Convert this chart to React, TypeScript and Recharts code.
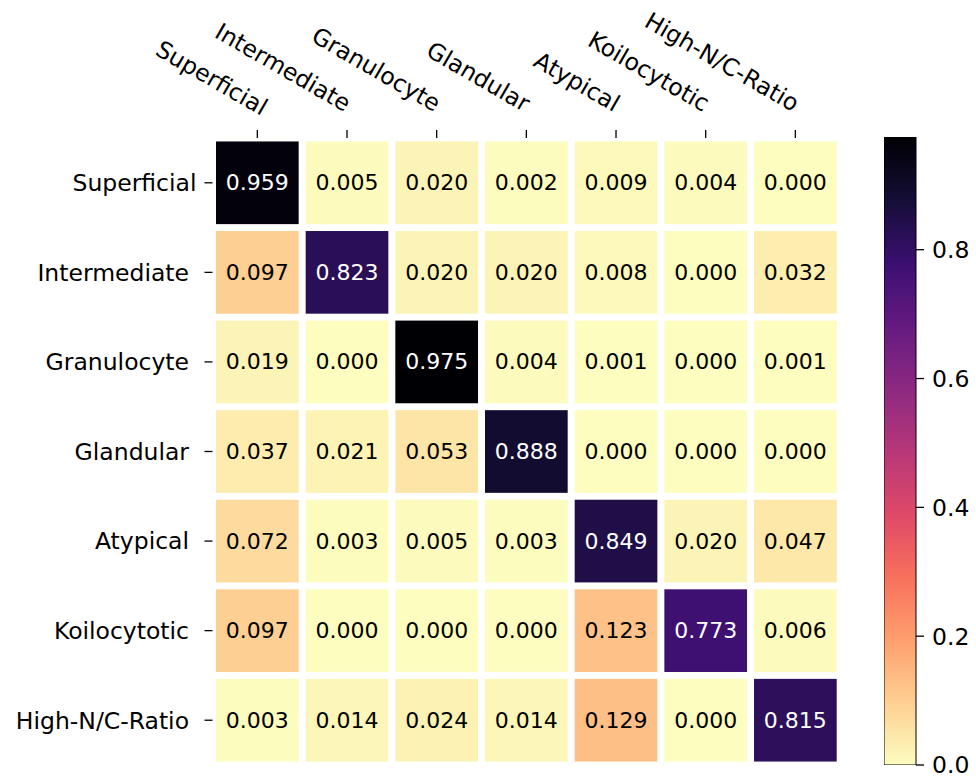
import React from "react";
import { ScatterChart, Scatter, XAxis, YAxis, BarChart, Bar } from "recharts";

// class names (rows = true, cols = predicted); the source labels carry a trailing space
const labels = [
  "Superficial",
  "Intermediate\u00a0",
  "Granulocyte\u00a0",
  "Glandular\u00a0",
  "Atypical\u00a0",
  "Koilocytotic\u00a0",
  "High-N/C-Ratio\u00a0",
];

// normalised confusion matrix, one row per true class
const matrix = [
  [0.959, 0.005, 0.02, 0.002, 0.009, 0.004, 0.0],
  [0.097, 0.823, 0.02, 0.02, 0.008, 0.0, 0.032],
  [0.019, 0.0, 0.975, 0.004, 0.001, 0.0, 0.001],
  [0.037, 0.021, 0.053, 0.888, 0.0, 0.0, 0.0],
  [0.072, 0.003, 0.005, 0.003, 0.849, 0.02, 0.047],
  [0.097, 0.0, 0.0, 0.0, 0.123, 0.773, 0.006],
  [0.003, 0.014, 0.024, 0.014, 0.129, 0.0, 0.815],
];

const colorbarTicks = [0, 0.2, 0.4, 0.6, 0.8];
const vmax = 0.975;

// magma stops at 0, 0.1, ... 1
const magma = [
  "#000004", "#140e36", "#3b0f70", "#641a80", "#8c2981", "#b73779",
  "#de4968", "#f7705c", "#fe9f6d", "#fecf92", "#fcfdbf",
];

const hex = (h: string) => [1, 3, 5].map((i) => parseInt(h.slice(i, i + 2), 16));

function magmaAt(t: number) {
  const p = Math.min(Math.max(t, 0), 1) * 10;
  const i = Math.min(Math.floor(p), 9);
  const f = p - i;
  const a = hex(magma[i]);
  const b = hex(magma[i + 1]);
  const c = a.map((v, k) => Math.round(v + (b[k] - v) * f));
  return `rgb(${c[0]},${c[1]},${c[2]})`;
}

// magma_r: high values dark
const cellColor = (v: number) => magmaAt(1 - v / vmax);

const cells = matrix.flatMap((row, r) => row.map((v, c) => ({ x: c, y: r, v })));

const W = 976;
const H = 777;
const PLOT_L = 212.5;
const PLOT_R = 840.2;
const PLOT_T = 138;
const PLOT_B = 765;
const STEP = (PLOT_R - PLOT_L) / labels.length;
const GAP = 7;
const FONT = "DejaVu Sans";
const LABEL_SIZE = 23.5;

const Cell = (props: any) => {
  const { cx, cy, payload } = props;
  const s = STEP - GAP;
  const dark = payload.v / vmax > 0.5;
  return (
    <g>
      <rect x={cx - s / 2} y={cy - s / 2} width={s} height={s} fill={cellColor(payload.v)} />
      <text
        x={cx}
        y={cy}
        textAnchor="middle"
        dominantBaseline="central"
        fontSize={22}
        fontFamily={FONT}
        fill={dark ? "#ffffff" : "#000000"}
      >
        {payload.v.toFixed(3)}
      </text>
    </g>
  );
};

const XTick = (props: any) => {
  const { x, payload } = props;
  const ax = x + 4;
  const ay = 116;
  return (
    <text
      x={ax}
      y={ay}
      transform={`rotate(30, ${ax}, ${ay})`}
      textAnchor="end"
      fontSize={LABEL_SIZE}
      fontFamily={FONT}
      fill="#000"
    >
      {labels[payload.value]}
    </text>
  );
};

export default function App() {
  return (
    <div style={{ position: "absolute", left: 0, top: 0, width: W, height: H, background: "#fff", fontFamily: FONT }}>
      <svg width={0} height={0} style={{ position: "absolute" }}>
        <defs>
          <linearGradient id="magmaGrad" x1="0" y1="0" x2="0" y2="1">
            {magma.map((c, i) => (
              <stop key={i} offset={`${i * 10}%`} stopColor={c} />
            ))}
          </linearGradient>
        </defs>
      </svg>

      <div style={{ position: "absolute", left: 0, top: 0 }}>
        <ScatterChart
          width={W}
          height={H}
          margin={{ top: PLOT_T - 130, left: PLOT_L - 200, right: W - PLOT_R, bottom: H - PLOT_B }}
        >
          <XAxis
            type="number"
            dataKey="x"
            orientation="top"
            height={130}
            domain={[-0.5, 6.5]}
            ticks={[0, 1, 2, 3, 4, 5, 6]}
            axisLine={false}
            tickLine={{ stroke: "#000", strokeWidth: 1.3 }}
            tickSize={8}
            tick={<XTick />}
            interval={0}
          />
          <YAxis
            type="number"
            dataKey="y"
            width={200}
            reversed
            domain={[-0.5, 6.5]}
            ticks={[0, 1, 2, 3, 4, 5, 6]}
            axisLine={false}
            tickLine={{ stroke: "#000", strokeWidth: 1.3 }}
            tickSize={8}
            tickMargin={8}
            interval={0}
            tickFormatter={(i: number) => labels[i]}
            tick={{ fill: "#000", fontSize: LABEL_SIZE, fontFamily: FONT }}
          />
          <Scatter data={cells} shape={<Cell />} isAnimationActive={false} />
        </ScatterChart>
      </div>

      {/* colorbar */}
      <div style={{ position: "absolute", left: 884, top: 0 }}>
        <BarChart
          width={92}
          height={H}
          data={[{ name: "cb", v: vmax }]}
          margin={{ top: 137, left: 0, right: 0, bottom: H - PLOT_B }}
          barCategoryGap={0}
        >
          <XAxis dataKey="name" hide />
          <YAxis
            orientation="right"
            width={60}
            domain={[0, vmax]}
            ticks={colorbarTicks}
            interval={0}
            allowDataOverflow
            axisLine={false}
            tickLine={{ stroke: "#000", strokeWidth: 1.3 }}
            tickSize={8}
            tickMargin={8}
            tickFormatter={(v: number) => v.toFixed(1)}
            tick={{ fill: "#000", fontSize: LABEL_SIZE, fontFamily: FONT }}
          />
          <Bar dataKey="v" fill="url(#magmaGrad)" stroke="#000" strokeWidth={1} isAnimationActive={false} />
        </BarChart>
      </div>
    </div>
  );
}
